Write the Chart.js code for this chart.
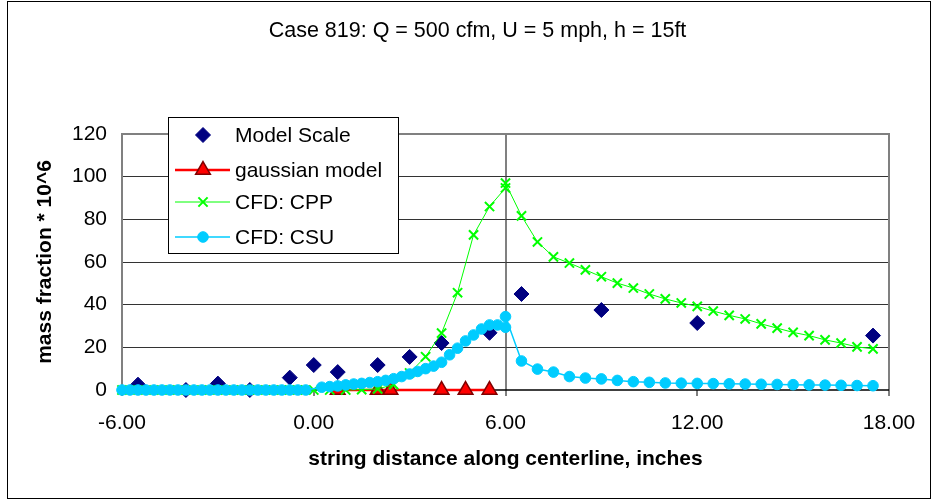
<!DOCTYPE html>
<html>
<head>
<meta charset="utf-8">
<script src="https://cdn.jsdelivr.net/npm/chart.js@4.4.1/dist/chart.umd.min.js"></script>
<style>
  body { margin: 0; background: #fff; }
  #wrap { position: relative; width: 935px; height: 499px; }
</style>
</head>
<body>
<div id="wrap"><canvas id="chart"></canvas></div>
<script>
// Model Scale (measured points)
const scaleX = [-5.5, -4, -3, -2, -0.75, 0, 0.75, 2, 3, 4, 5.5, 6.5, 9, 12, 17.5];
const scaleY = [2.5, 0, 3, 0, 5.8, 11.7, 8.4, 11.7, 15.5, 22, 26.8, 45, 37.5, 31.4, 25.5];

// gaussian model
const gaussX = [0.75, 2, 2.4, 4, 4.75, 5.5];
const gaussY = [0, 0, 0, 0, 0, 0];

// CFD: CPP
const cppX = [-6, -5.5, -5, -4.5, -4, -3.5, -3, -2.5, -2, -1.5, -1, -0.5, 0, 0.5, 1, 1.5,
  2, 2.5, 3, 3.5, 4, 4.5, 5, 5.5, 6, 6, 6.5, 7, 7.5, 8, 8.5, 9, 9.5, 10, 10.5, 11, 11.5,
  12, 12.5, 13, 13.5, 14, 14.5, 15, 15.5, 16, 16.5, 17, 17.5];
const cppY = [0, 0, 0, 0, 0, 0, 0, 0, 0, 0, 0, 0, 0, 0, 0, 0.2,
  0.5, 2.5, 8, 15.6, 26.7, 45.6, 72.7, 86, 94.7, 97, 81.6, 69.4, 62.4, 59.5, 56.3, 53.1, 50.1, 47.8, 45, 42.7, 40.8,
  39.2, 37, 35, 33.3, 31, 29, 27, 25.5, 23.5, 22, 20.2, 19.3];

// CFD: CSU
const csuX = [-6, -5.75, -5.5, -5.25, -5, -4.75, -4.5, -4.25, -4, -3.75, -3.5, -3.25,
  -3, -2.75, -2.5, -2.25, -2, -1.75, -1.5, -1.25, -1, -0.75, -0.5, -0.25,
  0.25, 0.5, 0.75, 1, 1.25, 1.5, 1.75, 2, 2.25, 2.5, 2.75, 3, 3.25, 3.5, 3.75,
  4, 4.25, 4.5, 4.75, 5, 5.25, 5.5, 5.75, 6, 6,
  6.5, 7, 7.5, 8, 8.5, 9, 9.5, 10, 10.5, 11, 11.5, 12, 12.5, 13, 13.5, 14, 14.5,
  15, 15.5, 16, 16.5, 17, 17.5];
const csuY = [0, 0, 0, 0, 0, 0, 0, 0, 0, 0, 0, 0,
  0, 0, 0, 0, 0, 0, 0, 0, 0, 0, 0, 0,
  1.3, 1.6, 1.9, 2.4, 2.8, 3.1, 3.5, 3.9, 4.5, 5.3, 6.3, 7.5, 8.7, 10, 11.2,
  13, 16.5, 19.6, 23, 25.8, 28.6, 30.5, 30.5, 29.4, 34.4,
  13.6, 9.8, 8.4, 6.3, 5.6, 5.2, 4.5, 3.9, 3.6, 3.3, 3.2, 3.1, 3.0, 2.9, 2.8, 2.7, 2.6,
  2.5, 2.4, 2.3, 2.2, 2.1, 2.0];

const xTicks = [-6, 0, 6, 12, 18];
const yTicks = [0, 20, 40, 60, 80, 100, 120];

const FONT = "'Liberation Sans', Arial, sans-serif";

function pts(xs, ys) {
  return xs.map((x, i) => ({ x: x, y: ys[i] }));
}

// legend drawn inside the plot, like the original
const boxLegend = {
  id: 'boxLegend',
  afterDraw(chart) {
    const ctx = chart.ctx;
    const rows = [135, 170, 202, 237];
    ctx.save();
    ctx.fillStyle = '#fff';
    ctx.fillRect(168, 117, 230, 136);
    ctx.strokeStyle = '#000';
    ctx.lineWidth = 1;
    ctx.strokeRect(168.5, 117.5, 230, 136);
    const list = chart.data.datasets.slice().sort((a, b) => a.legendRow - b.legendRow);
    list.forEach((ds, i) => {
      const y = rows[i];
      if (ds.showLine) {
        ctx.strokeStyle = ds.borderColor;
        ctx.lineWidth = ds.borderWidth;
        ctx.beginPath();
        ctx.moveTo(175, y);
        ctx.lineTo(230, y);
        ctx.stroke();
      }
      ctx.fillStyle = ds.pointBackgroundColor;
      ctx.strokeStyle = ds.pointBorderColor;
      ctx.lineWidth = ds.pointBorderWidth;
      Chart.helpers.drawPoint(ctx, {
        pointStyle: ds.pointStyle, radius: ds.pointRadius,
        borderWidth: ds.pointBorderWidth, rotation: 0
      }, 203, y);
      ctx.fillStyle = '#000';
      ctx.font = '21px ' + FONT;
      ctx.textBaseline = 'middle';
      ctx.textAlign = 'left';
      ctx.fillText(ds.label, 235, y + 1);
    });
    ctx.restore();
  }
};

// gray plot frame + outer chart border
const frame = {
  id: 'frame',
  beforeDatasetsDraw(chart) {
    const a = chart.chartArea;
    const ctx = chart.ctx;
    ctx.save();
    ctx.strokeStyle = '#808080';
    ctx.lineWidth = 2;
    ctx.beginPath();
    ctx.moveTo(a.left, a.bottom);
    ctx.lineTo(a.left, a.top);
    ctx.lineTo(a.right, a.top);
    ctx.lineTo(a.right, a.bottom);
    ctx.stroke();
    ctx.strokeStyle = '#000';
    ctx.lineWidth = 1.5;
    ctx.beginPath();
    ctx.moveTo(a.left, a.bottom);
    ctx.lineTo(a.right, a.bottom);
    ctx.stroke();
    ctx.restore();
  },
  afterDraw(chart) {
    const ctx = chart.ctx;
    ctx.save();
    ctx.strokeStyle = '#000';
    ctx.lineWidth = 1;
    ctx.strokeRect(7.5, 1.5, 923, 497);
    ctx.restore();
  }
};

new Chart(document.getElementById('chart'), {
  type: 'scatter',
  data: {
    datasets: [
      {
        label: 'Model Scale', legendRow: 0, order: 3, clip: false,
        data: pts(scaleX, scaleY),
        showLine: false,
        pointStyle: 'rectRot', pointRadius: 7.5,
        pointBackgroundColor: '#000080', pointBorderColor: '#000080', pointBorderWidth: 1,
        borderColor: '#000080'
      },
      {
        label: 'gaussian model', legendRow: 1, order: 2, clip: false,
        data: pts(gaussX, gaussY),
        showLine: true, borderColor: '#FF0000', borderWidth: 2.5,
        pointStyle: 'triangle', pointRadius: 8.5,
        pointBackgroundColor: '#FF0000', pointBorderColor: '#800000', pointBorderWidth: 1.5
      },
      {
        label: 'CFD: CPP', legendRow: 2, order: 1, clip: false,
        data: pts(cppX, cppY),
        showLine: true, borderColor: '#00FF00', borderWidth: 1,
        pointStyle: 'crossRot', pointRadius: 6.5,
        pointBackgroundColor: '#00FF00', pointBorderColor: '#00FF00', pointBorderWidth: 2
      },
      {
        label: 'CFD: CSU', legendRow: 3, order: 0, clip: false,
        data: pts(csuX, csuY),
        showLine: true, borderColor: '#00CCFF', borderWidth: 1.5,
        pointStyle: 'circle', pointRadius: 5.3,
        pointBackgroundColor: '#00CCFF', pointBorderColor: '#00CCFF', pointBorderWidth: 1
      }
    ]
  },
  options: {
    responsive: true,
    maintainAspectRatio: false,
    animation: false,
    events: [],
    layout: { padding: { left: 20, right: 0, top: 0, bottom: 0 } },
    plugins: {
      legend: { display: false },
      tooltip: { enabled: false },
      title: {
        display: true,
        text: 'Case 819: Q = 500 cfm, U = 5 mph, h = 15ft',
        color: '#000',
        font: { family: FONT, size: 21.5, weight: 'normal' },
        padding: { top: 18.1, bottom: 90.1 }
      }
    },
    scales: {
      x: {
        type: 'linear',
        min: xTicks[0], max: xTicks[xTicks.length - 1],
        afterBuildTicks(scale) { scale.ticks = xTicks.map(v => ({ value: v })); },
        afterFit(scale) { scale.height = 109; },
        ticks: {
          color: '#000', padding: 15,
          font: { family: FONT, size: 21 },
          callback: v => v.toFixed(2),
          maxRotation: 0
        },
        grid: {
          drawTicks: true, tickLength: 6, tickColor: '#000', tickWidth: 1,
          color: c => (c.tick && c.tick.value === 6) ? '#808080' : 'rgba(0,0,0,0)',
          lineWidth: 2
        },
        border: { display: false },
        title: {
          display: true,
          text: 'string distance along centerline, inches',
          color: '#000',
          font: { family: FONT, size: 21, weight: 'bold' },
          padding: { top: 0, bottom: 27.4 }
        }
      },
      y: {
        min: yTicks[0], max: yTicks[yTicks.length - 1],
        afterBuildTicks(scale) { scale.ticks = yTicks.map(v => ({ value: v })); },
        afterFit(scale) { scale.width = 102; },
        ticks: {
          color: '#000', padding: 15,
          font: { family: FONT, size: 21 }
        },
        grid: {
          drawTicks: false,
          color: c => {
            const v = c.tick ? c.tick.value : null;
            if (v === 0) return 'rgba(0,0,0,0)';
            if (v === 120) return '#808080';
            return '#333';
          },
          lineWidth: c => (c.tick && c.tick.value === 120) ? 2 : 1
        },
        border: { display: false },
        title: {
          display: true,
          text: 'mass fraction * 10^6',
          color: '#000',
          font: { family: FONT, size: 21, weight: 'bold' },
          padding: { top: 12.4, bottom: 0 }
        }
      },
      // empty right-hand axis that only reserves the margin right of the plot
      yRight: {
        position: 'right',
        min: 0, max: 120,
        afterFit(scale) { scale.width = 46; },
        ticks: { display: false },
        grid: { display: false, drawTicks: false },
        border: { display: false }
      }
    }
  },
  plugins: [frame, boxLegend]
});
</script>
</body>
</html>
